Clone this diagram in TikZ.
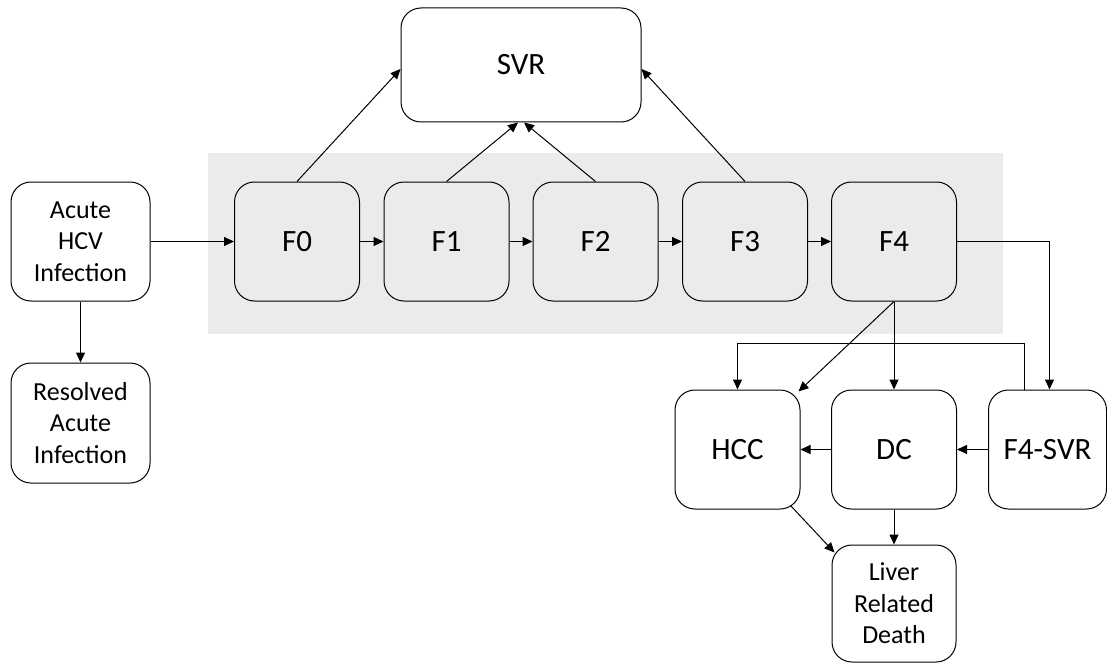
\documentclass[tikz,border=0pt]{standalone}
\usepackage{fontspec}
\setmainfont{Carlito}
\usetikzlibrary{arrows.meta}
\definecolor{bandgray}{RGB}{235,235,235}
\begin{document}
\begin{tikzpicture}[x=1pt,y=-1pt,
  box/.style={draw, line width=1pt, rounded corners=20pt, align=center, inner sep=0pt},
  big/.style={font=\fontsize{31}{34}\selectfont},
  small/.style={font=\fontsize{26}{31.5}\selectfont},
  fbox/.style={box, big, minimum width=125pt, minimum height=119pt},
  arr/.style={line width=1pt, -{Triangle[length=10pt,width=9pt]}}]
\useasboundingbox (0,0) rectangle (1107,663);
% grey band behind the fibrosis stages
\fill[bandgray] (208,153) rectangle (1003,334);
% nodes
\node[box, big, fill=white, minimum width=240pt, minimum height=114pt] (svr) at (521,65) {SVR};
\node[box, small, minimum width=139pt, minimum height=119pt] (acute) at (80.5,241.5) {Acute\\HCV\\Infection};
\node[box, small, minimum width=139pt, minimum height=120pt] (resolved) at (80.5,423) {Resolved\\Acute\\Infection};
\node[fbox] (f0) at (297,241.5) {F0};
\node[fbox] (f1) at (446.5,241.5) {F1};
\node[fbox] (f2) at (595.5,241.5) {F2};
\node[fbox] (f3) at (745,241.5) {F3};
\node[fbox] (f4) at (894,241.5) {F4};
\node[fbox] (hcc) at (737.5,449.5) {HCC};
\node[fbox] (dc) at (894,449.5) {DC};
\node[box, big, minimum width=118pt, minimum height=119pt] (f4svr) at (1047.5,449.5) {F4-SVR};
\node[box, small, minimum width=124pt, minimum height=117pt] (death) at (894,603.5) {Liver\\Related\\Death};
% connectors
\draw[arr] (acute) -- (f0);
\draw[arr] (acute) -- (resolved);
\draw[arr] (f0) -- (f1);
\draw[arr] (f1) -- (f2);
\draw[arr] (f2) -- (f3);
\draw[arr] (f3) -- (f4);
\draw[arr] (f0.north) -- ([yshift=-4pt]svr.west);
\draw[arr] (f1.north) -- ([xshift=-3pt]svr.south);
\draw[arr] (f2.north) -- ([xshift=3pt]svr.south);
\draw[arr] (f3.north) -- ([yshift=-4pt]svr.east);
\draw[arr] (f4.east) -| ([xshift=2pt]f4svr.north);
\draw[arr] (f4.south) -- (dc.north);
\draw[arr] (f4.south) -- ([xshift=-2pt,yshift=-2pt]hcc.north east);
\draw[arr] ([xshift=-23pt]f4svr.north) -- ++(0,-46) -| (hcc.north);
\draw[arr] (dc) -- (hcc);
\draw[arr] (f4svr) -- (dc);
\draw[arr] ([xshift=-10pt,yshift=4pt]hcc.south east) -- ([xshift=3pt,yshift=-8pt]death.north west);
\draw[arr] (dc) -- (death);
\end{tikzpicture}
\end{document}
